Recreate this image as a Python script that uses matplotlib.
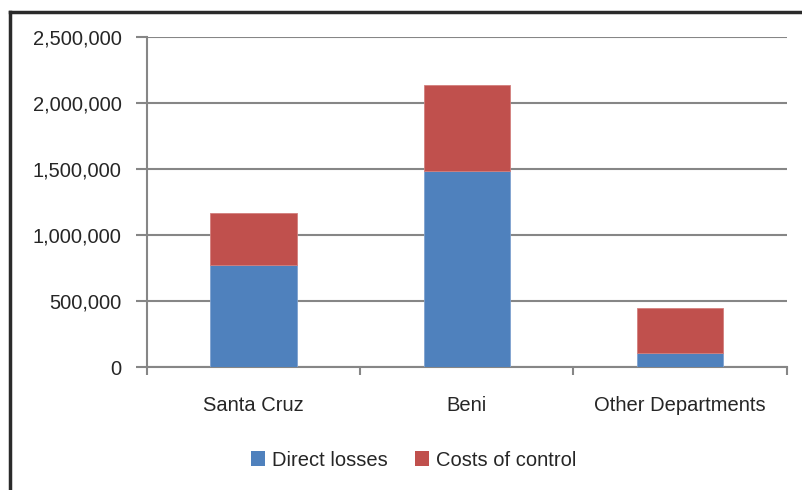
import matplotlib
matplotlib.use("Agg")
import matplotlib.pyplot as plt
from matplotlib.lines import Line2D
from matplotlib.patches import Patch
from matplotlib.ticker import FuncFormatter, FixedLocator, NullFormatter

categories = ["Santa Cruz", "Beni", "Other Departments"]
direct_losses = [775000, 1485000, 106000]
costs_of_control = [392000, 654000, 341000]
series_names = ["Direct losses", "Costs of control"]
y_ticks = [0, 500000, 1000000, 1500000, 2000000, 2500000]

plt.rcParams['font.family'] = ['Liberation Sans', 'DejaVu Sans']

W, H = 802, 490
fig = plt.figure(figsize=(W / 100, H / 100), dpi=100)
ax = fig.add_axes([146.7 / W, 1 - 367 / H, (786.7 - 146.7) / W, 330 / H])

blue = "#4F81BD"
red = "#C0504D"
grid_c = "#868686"
x = list(range(len(categories)))
ax.bar(x, direct_losses, width=0.405, color=blue, edgecolor="#7FA2CF", linewidth=0.6,
       label=series_names[0], zorder=3)
ax.bar(x, costs_of_control, width=0.405, bottom=direct_losses, color=red,
       edgecolor="#D27F7D", linewidth=0.6, label=series_names[1], zorder=3)

ax.set_xlim(-0.5, len(categories) - 0.5)
ax.set_ylim(0, 2500000)
ax.set_yticks(y_ticks)
ax.yaxis.set_major_formatter(FuncFormatter(lambda v, p: f"{int(v):,}"))
ax.yaxis.grid(True, color=grid_c, linewidth=1.5, zorder=0)
ax.set_axisbelow(True)

ax.xaxis.set_major_locator(FixedLocator([-0.5, 0.5, 1.5, 2.5]))
ax.xaxis.set_major_formatter(NullFormatter())
ax.xaxis.set_minor_locator(FixedLocator(x))
ax.set_xticklabels(categories, minor=True)
ax.tick_params(axis="x", which="major", length=6, width=1.5, color=grid_c, direction="out")
ax.tick_params(axis="x", which="minor", length=0, pad=21, labelsize=14.5, labelcolor="#262626")
ax.tick_params(axis="y", length=8, width=1.5, color=grid_c, direction="out", pad=10,
               labelsize=14.5, labelcolor="#262626")

for s in ["top", "right"]:
    ax.spines[s].set_visible(False)
for s in ["left", "bottom"]:
    ax.spines[s].set_color(grid_c)
    ax.spines[s].set_linewidth(1.5)

handles = [Patch(facecolor=blue, label=series_names[0]), Patch(facecolor=red, label=series_names[1])]
fig.legend(handles=handles, loc="center", bbox_to_anchor=(414 / W, 1 - 460 / H), ncol=2,
           frameon=False, fontsize=14.5, handlelength=0.7, handleheight=0.7,
           handletextpad=0.35, columnspacing=1.35, labelcolor="#262626")

# outer frame (left and top edges)
fig.add_artist(Line2D([10 / W, 10 / W], [0, 1 - 12.5 / H], transform=fig.transFigure,
                      color="#2a2a2a", linewidth=2.5))
fig.add_artist(Line2D([10 / W, 1], [1 - 12.5 / H, 1 - 12.5 / H], transform=fig.transFigure,
                      color="#2a2a2a", linewidth=2.5))

fig.savefig("out.png", dpi=100)
